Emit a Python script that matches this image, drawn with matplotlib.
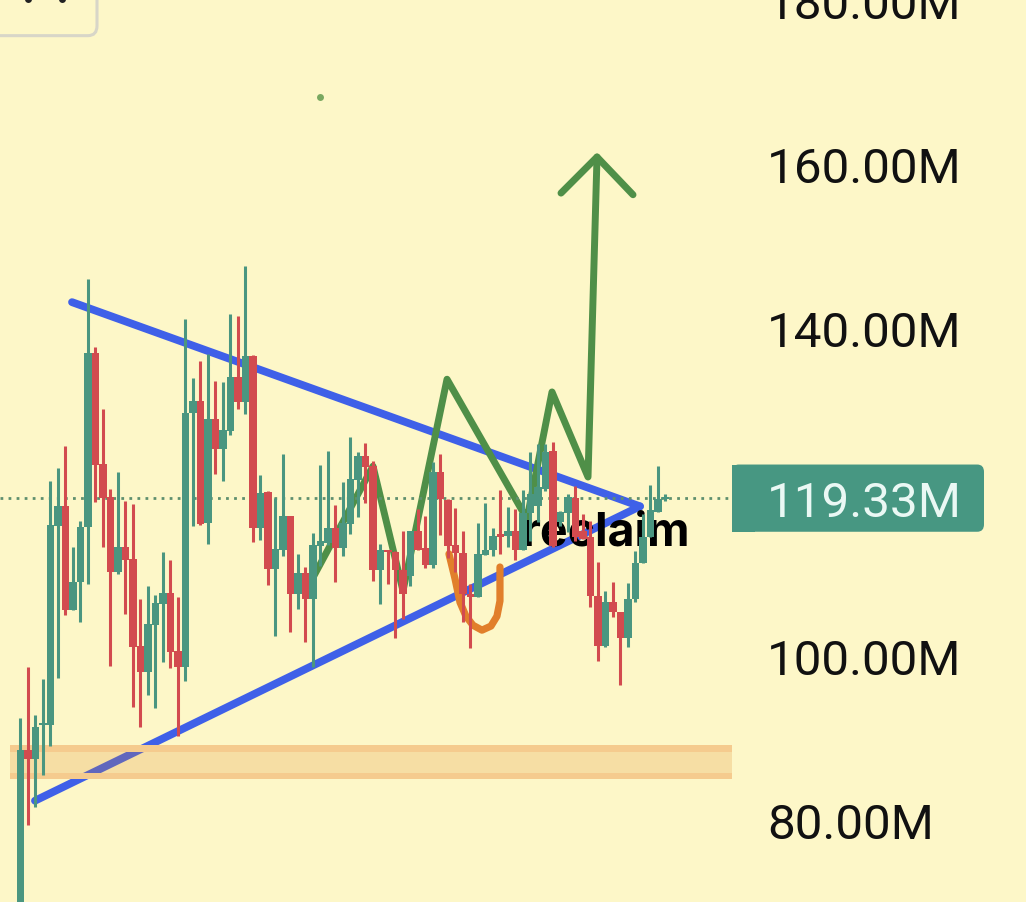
import matplotlib
matplotlib.use('Agg')
import matplotlib.pyplot as plt
from matplotlib.patches import FancyBboxPatch, Rectangle
import numpy as np

BG = '#FDF7C8'
UP = '#4A9680'
DOWN = '#D24B4F'

# candle values in millions; opens/closes set the colour
highs = [92.7, 98.9, 93.0, 97.4, 121.6, 123.2, 125.9, 113.6, 116.7, 146.2, 137.9, 130.4, 120.6, 122.7, 119.2, 118.8, 107.2, 108.8, 107.7, 112.9, 112.0, 107.4, 141.3, 134.1, 136.2, 137.1, 133.8, 133.7, 141.9, 141.7, 147.8, 137.0, 122.3, 120.4, 119.5, 124.9, 117.3, 112.7, 111.1, 115.3, 123.6, 125.2, 118.7, 121.5, 127.0, 125.1, 126.2, 124.0, 113.9, 113.0, 113.0, 115.5, 115.5, 118.2, 117.3, 123.9, 124.9, 119.4, 118.3, 115.5, 109.0, 116.5, 118.9, 115.9, 120.5, 118.4, 118.2, 120.5, 125.1, 126.1, 126.1, 126.3, 117.9, 120.0, 121.0, 117.6, 116.7, 111.7, 108.2, 109.3, 105.6, 109.1, 113.0, 117.6, 121.1, 123.4, 120.0]
lows = [67.0, 79.6, 81.8, 85.7, 89.3, 97.6, 105.3, 105.9, 104.4, 109.0, 119.0, 113.6, 99.0, 110.2, 105.4, 94.0, 91.6, 95.5, 93.9, 99.5, 98.8, 90.5, 97.2, 116.1, 116.2, 113.9, 122.4, 121.6, 127.2, 130.4, 129.8, 114.2, 114.4, 108.9, 102.7, 112.5, 103.2, 106.0, 102.0, 98.9, 111.2, 113.8, 109.3, 112.5, 115.1, 117.2, 118.9, 109.4, 106.6, 109.0, 102.4, 104.8, 108.8, 113.2, 111.0, 111.0, 115.0, 112.2, 110.5, 104.4, 101.2, 107.4, 112.6, 112.5, 112.7, 113.5, 112.0, 113.2, 114.3, 116.6, 120.4, 113.5, 116.1, 115.4, 114.3, 114.5, 106.2, 99.6, 101.3, 105.0, 96.7, 101.3, 106.8, 111.6, 114.8, 117.8, 119.1]
body_tops = [88.8, 88.8, 91.6, 92.1, 116.2, 118.5, 118.5, 109.3, 116.0, 137.2, 137.2, 123.7, 119.6, 113.6, 113.6, 112.1, 101.5, 104.2, 106.7, 107.9, 107.9, 100.9, 129.9, 131.4, 131.4, 129.1, 129.1, 127.8, 134.3, 134.3, 136.8, 136.8, 120.1, 120.2, 113.3, 117.3, 117.3, 110.4, 110.4, 113.8, 114.3, 115.8, 115.8, 116.5, 121.8, 124.6, 124.6, 123.4, 113.2, 113.0, 112.9, 110.7, 115.5, 115.5, 113.4, 122.7, 122.7, 119.3, 113.8, 112.8, 107.8, 112.7, 113.2, 114.9, 114.9, 115.5, 115.5, 117.7, 120.0, 120.9, 125.1, 125.2, 117.8, 119.6, 119.5, 115.5, 114.8, 107.6, 106.8, 106.8, 105.6, 107.2, 111.6, 114.8, 118.0, 119.4, 119.5]
body_bottoms = [68.2, 87.7, 87.7, 91.8, 91.8, 116.1, 105.9, 105.9, 109.3, 116.0, 123.5, 119.5, 110.5, 110.5, 112.0, 101.3, 98.3, 98.3, 104.0, 106.6, 100.7, 98.9, 98.9, 129.9, 116.4, 116.5, 125.5, 125.5, 127.7, 131.2, 131.2, 115.8, 115.8, 110.9, 110.9, 113.2, 107.8, 107.8, 107.2, 107.2, 113.7, 114.0, 113.4, 113.4, 116.3, 121.7, 123.3, 110.7, 110.7, 112.9, 110.7, 107.8, 110.0, 113.2, 111.4, 111.4, 119.4, 113.7, 112.8, 107.8, 107.4, 107.4, 112.6, 113.2, 114.8, 114.9, 113.2, 113.2, 117.7, 118.5, 120.6, 113.7, 116.6, 117.7, 114.8, 114.5, 107.6, 101.5, 101.5, 105.6, 102.4, 102.4, 107.2, 111.6, 114.8, 117.8, 119.4]
is_down = "GRGGGGRGGGRRRGRRRGGGRRGGRGRGGRGRGRGGRGRGGGRGGGRRGRRRGRRGRRRRRGGGRGRGGGGRGGRRRRGRRGGGGGG"

price_ticks = [180, 160, 140, 100, 80]
tick_labels = ['180.00M', '160.00M', '140.00M', '100.00M', '80.00M']
last_price = 119.33

# hand drawn annotations, as (candle index, price)
upper_x, upper_y = [6.87, 82.6], [143.4, 118.5]
lower_x, lower_y = [1.93, 82.6], [82.6, 118.5]
zigzag_x = [38.87, 47.0, 51.0, 56.87, 67.53, 70.87, 75.67, 76.87]
zigzag_y = [109.6, 123.4, 108.2, 134.0, 116.96, 132.45, 122.08, 161.1]
arrow_x = [72.07, 76.87, 81.67]
arrow_y = [156.7, 161.1, 156.5]
cup_x = [57.13, 57.93, 58.6, 59.4, 60.33, 61.53, 62.73, 63.53, 63.93, 63.93]
cup_y = [112.7, 109.7, 106.8, 105.1, 104.0, 103.4, 103.9, 105.1, 106.96, 111.1]
zone_low, zone_high = 85.2, 89.4

fig = plt.figure(figsize=(10.26, 9.03), dpi=100, facecolor=BG)
ax = fig.add_axes([0, 0, 1, 1])
ax.set_facecolor(BG)
ax.set_xlim(-2.733, 134.07)
ax.set_ylim(70.25, 180.37)
ax.axis('off')

x = np.arange(len(highs))
colors = [DOWN if c == 'R' else UP for c in is_down]
tops = np.array(body_tops)
bottoms = np.array(body_bottoms)

# the drawings sit under the candles
ax.plot(upper_x, upper_y, color='#3F60E8', lw=5.6, solid_capstyle='round', zorder=2)
ax.plot(lower_x, lower_y, color='#3F60E8', lw=5.6, solid_capstyle='round', zorder=2)

# support zone: see-through middle, solid edges
zone_left, zone_right = -1.4, 94.87
ax.add_patch(Rectangle((zone_left, zone_low), zone_right - zone_left, zone_high - zone_low,
                       facecolor='#E08521', alpha=0.21, lw=0, zorder=3))
ax.add_patch(Rectangle((zone_left, zone_low), zone_right - zone_left, 0.8,
                       facecolor='#F5CB8E', lw=0, zorder=3))
ax.add_patch(Rectangle((zone_left, zone_high - 0.8), zone_right - zone_left, 0.8,
                       facecolor='#F5CB8E', lw=0, zorder=3))

ax.plot(zigzag_x, zigzag_y, color='#4F8F48', lw=5, solid_joinstyle='round', solid_capstyle='round', zorder=4)
ax.plot(arrow_x, arrow_y, color='#4F8F48', lw=5, solid_joinstyle='round', solid_capstyle='round', zorder=4)
ax.plot(cup_x, cup_y, color='#E17F2B', lw=5.2, solid_joinstyle='round', solid_capstyle='round', zorder=4)

ax.plot([-2.733, 94.4], [last_price + 0.15, last_price + 0.15], color='#5E8F6E', lw=2,
        linestyle=(0, (1, 1.9)), zorder=4.5)

# text goes over the drawings but under the candles
ax.text(78.05, 113.9, 'reclaim', fontfamily='Inter', fontweight='bold', fontsize=33.5,
        color='black', ha='center', va='baseline', zorder=4.8)

ax.vlines(x, lows, highs, colors=colors, lw=2.2, zorder=5)
ax.bar(x, np.maximum(tops - bottoms, 0.3), bottom=bottoms, width=1.0, color=colors, lw=0, zorder=6)

ax.plot([39.93], [168.4], 'o', color='#79A860', ms=5, mew=0, zorder=5)

for p, lab in zip(price_ticks, tick_labels):
    ax.text(99.55, p - 0.4, lab, fontfamily='Roboto', fontsize=35.6, color='#111111',
            ha='left', va='center', zorder=8, clip_on=True)

# last price tag, round on the right side only
tag_left, tag_right, tag_low, tag_high = 94.87, 128.47, 115.4, 123.6
ax.add_patch(FancyBboxPatch((tag_left, tag_low), tag_right - tag_left, tag_high - tag_low,
                            boxstyle='round,pad=0,rounding_size=0.9', mutation_aspect=1.0,
                            facecolor='#479782', edgecolor='none', zorder=7))
ax.add_patch(Rectangle((tag_left, tag_low), 3, tag_high - tag_low, facecolor='#479782', lw=0, zorder=7))
ax.text(99.55, last_price - 0.4, '119.33M', fontfamily='Roboto', fontsize=35.6, color='#EAF8F4',
        ha='left', va='center', zorder=8)

# corner of the toolbar button, cut by the top edge
ax.add_patch(FancyBboxPatch((-8, 175.9), 18.2, 8, boxstyle='round,pad=0,rounding_size=1.2',
                            mutation_aspect=1.0, facecolor='none', edgecolor='#D8D6C8', lw=2.2, zorder=8))
ax.plot([1.0, 5.5], [180.37, 180.37], ' ', marker='o', ms=5, color='#222222', mew=0, zorder=8)

fig.savefig('out.png', dpi=100, facecolor=BG)
